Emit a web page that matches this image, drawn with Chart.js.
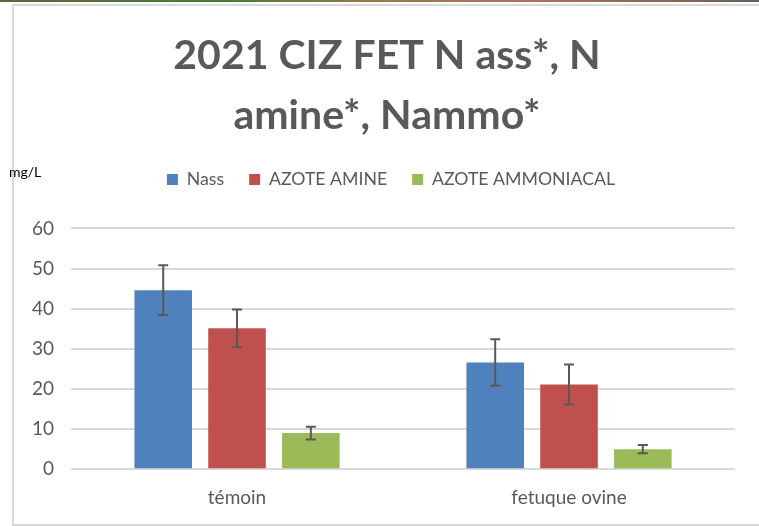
<!DOCTYPE html>
<html>
<head>
<meta charset="utf-8">
<script src="https://cdn.jsdelivr.net/npm/chart.js@4.4.1/dist/chart.umd.min.js"></script>
<style>
  html, body { margin: 0; padding: 0; background: #fff; }
  #wrap { width: 759px; height: 526px; }
</style>
</head>
<body>
<div id="wrap"><canvas id="chart" width="759" height="526"></canvas></div>
<script>
const categories = ["témoin", "fetuque ovine"];
const seriesNames = ["Nass", "AZOTE AMINE", "AZOTE AMMONIACAL"];
const nass = [44.6, 26.6];
const nassErr = [6.2, 5.8];
const amine = [35.1, 21.1];
const amineErr = [4.7, 5.0];
const ammo = [9.0, 5.0];
const ammoErr = [1.6, 1.05];
const colors = ["#4f81bd", "#c0504d", "#9bbb59"];
const yTicks = [0, 10, 20, 30, 40, 50, 60];

const FONT = "Lato, 'Open Sans', sans-serif";
const GREY = "#595959";

const shiftDraw = (box, dx) => {
  const d = box.draw;
  box.draw = function (...a) {
    this.ctx.save();
    this.ctx.translate(dx, 0);
    d.apply(this, a);
    this.ctx.restore();
  };
};

// frame, top strip and unit label
const framePlugin = {
  id: "frame",
  beforeInit(chart) {
    // leave room between legend and plot
    const fit = chart.legend.fit;
    chart.legend.fit = function () {
      fit.call(this);
      this.height += 30;
    };
    // title and legend sit a bit right of the plot centre
    shiftDraw(chart.legend, 16);
    shiftDraw(chart.titleBlock, 12);
  },
  beforeDraw(chart) {
    const c = chart.ctx;
    c.save();
    const g = c.createLinearGradient(0, 0, 759, 0);
    g.addColorStop(0, "#5b6b3a");
    g.addColorStop(0.3, "#4d7a3a");
    g.addColorStop(0.5, "#9a7a4a");
    g.addColorStop(0.7, "#b07060");
    g.addColorStop(1, "#6a6058");
    c.fillStyle = g;
    c.fillRect(0, 0, 759, 2);
    c.strokeStyle = "#d9d9d9";
    c.lineWidth = 2;
    c.strokeRect(13, 5, 800, 520);
    c.restore();
  },
  afterDraw(chart) {
    const c = chart.ctx;
    c.save();
    c.fillStyle = "#000";
    c.font = "14px " + FONT;
    c.textBaseline = "middle";
    c.fillText("mg/L", 9, 172);
    c.restore();
  },
};

// error bars drawn from the y scale
const errorBars = {
  id: "errorBars",
  afterDatasetsDraw(chart) {
    const c = chart.ctx;
    const y = chart.scales.y;
    c.save();
    c.strokeStyle = GREY;
    c.lineWidth = 2;
    chart.data.datasets.forEach((ds, i) => {
      chart.getDatasetMeta(i).data.forEach((bar, j) => {
        const v = ds.data[j];
        const e = ds.err[j];
        const top = y.getPixelForValue(v + e);
        const bot = y.getPixelForValue(v - e);
        c.beginPath();
        c.moveTo(bar.x, top);
        c.lineTo(bar.x, bot);
        c.moveTo(bar.x - 5, top);
        c.lineTo(bar.x + 5, top);
        c.moveTo(bar.x - 5, bot);
        c.lineTo(bar.x + 5, bot);
        c.stroke();
      });
    });
    c.restore();
  },
};

const mk = (label, data, err, color) => ({
  label,
  data,
  err,
  backgroundColor: color,
  borderWidth: 0,
  categoryPercentage: 0.667,
  barPercentage: 0.78,
});

new Chart(document.getElementById("chart"), {
  type: "bar",
  data: {
    labels: categories,
    datasets: [
      mk(seriesNames[0], nass, nassErr, colors[0]),
      mk(seriesNames[1], amine, amineErr, colors[1]),
      mk(seriesNames[2], ammo, ammoErr, colors[2]),
    ],
  },
  options: {
    responsive: false,
    animation: false,
    layout: { padding: { top: 0, left: 15, right: 24, bottom: 0 } },
    scales: {
      x: {
        grid: { display: false, drawTicks: false },
        border: { display: false },
        ticks: { color: GREY, font: { family: FONT, size: 19 }, padding: 17 },
      },
      y: {
        min: 0,
        max: 60,
        afterBuildTicks: (s) => { s.ticks = yTicks.map((v) => ({ value: v })); },
        grid: { color: "#d9d9d9", lineWidth: 2, drawTicks: false },
        border: { display: false },
        ticks: { color: GREY, font: { family: FONT, size: 19 }, padding: 17 },
      },
    },
    plugins: {
      title: {
        display: true,
        text: ["2021 CIZ FET N ass*, N", "amine*, Nammo*"],
        color: GREY,
        font: { family: FONT, size: 41, weight: "bold", lineHeight: 1.46 },
        padding: { top: 26, bottom: 0 },
      },
      legend: {
        position: "top",
        labels: {
          color: GREY,
          font: { family: FONT, size: 17.7 },
          boxWidth: 11,
          boxHeight: 11,
          padding: 25,
        },
      },
      tooltip: { enabled: false },
    },
  },
  plugins: [framePlugin, errorBars],
});
</script>
</body>
</html>
